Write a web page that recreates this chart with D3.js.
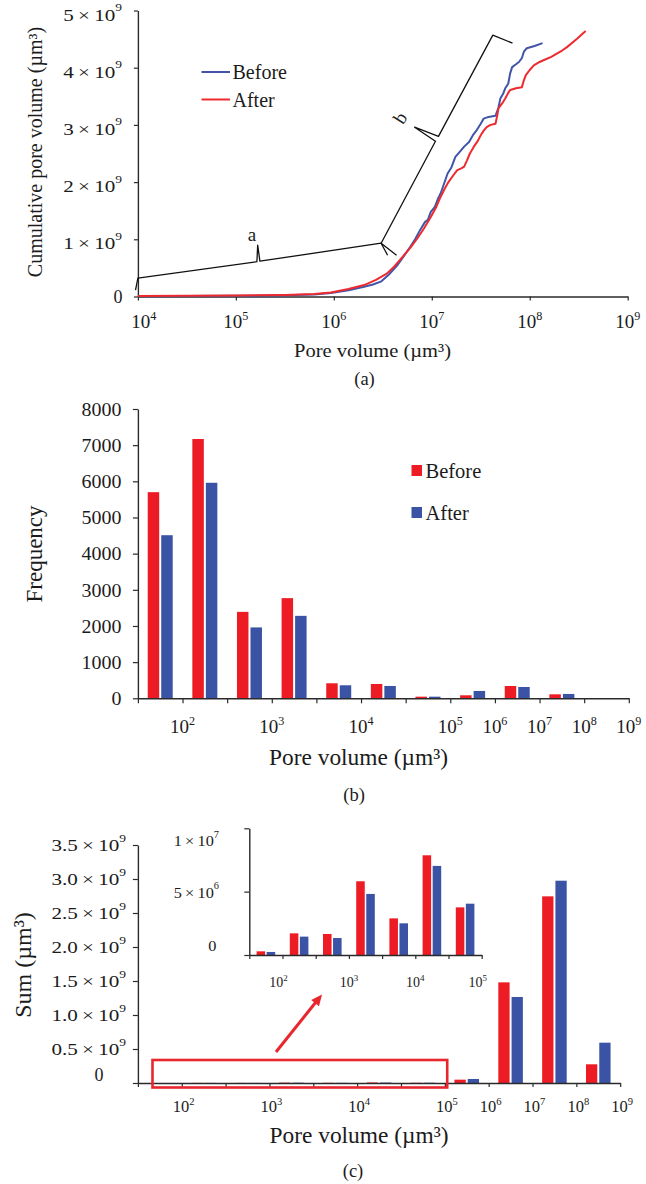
<!DOCTYPE html>
<html>
<head>
<meta charset="utf-8">
<script src="https://cdn.jsdelivr.net/npm/d3@7"></script>
<style>
  html, body { margin: 0; padding: 0; background: #ffffff; }
  svg { display: block; }
</style>
</head>
<body>
<svg id="fig" width="646" height="1184"></svg>
<script>
// ---------------------------------------------------------------
// (a) cumulative pore volume vs pore volume  [pore volume µm³, cumulative µm³]
const beforeCurve = [
  [1e4, 0.005e9], [3.16e4, 0.008e9], [1e5, 0.012e9], [3.16e5, 0.02e9], [6.31e5, 0.035e9],
  [9.33e5, 0.063e9], [1.41e6, 0.11e9], [2.04e6, 0.17e9], [2.51e6, 0.21e9], [3.02e6, 0.26e9],
  [3.63e6, 0.38e9], [4.47e6, 0.55e9], [5.25e6, 0.72e9], [6.03e6, 0.87e9], [6.76e6, 1.00e9],
  [7.59e6, 1.16e9], [8.51e6, 1.30e9], [9.12e6, 1.34e9], [9.77e6, 1.48e9], [1.07e7, 1.56e9],
  [1.15e7, 1.70e9], [1.23e7, 1.80e9], [1.32e7, 1.95e9], [1.45e7, 2.15e9], [1.58e7, 2.25e9],
  [1.74e7, 2.44e9], [1.91e7, 2.52e9], [2.14e7, 2.62e9], [2.40e7, 2.70e9], [2.63e7, 2.82e9],
  [2.88e7, 2.91e9], [3.16e7, 3.02e9], [3.39e7, 3.11e9], [3.80e7, 3.14e9], [4.47e7, 3.16e9],
  [4.79e7, 3.30e9], [5.01e7, 3.46e9], [5.37e7, 3.55e9], [5.62e7, 3.64e9], [6.03e7, 3.72e9],
  [6.31e7, 3.90e9], [6.61e7, 4.01e9], [7.24e7, 4.06e9], [7.76e7, 4.10e9], [8.32e7, 4.17e9],
  [8.71e7, 4.28e9], [9.33e7, 4.34e9], [1.12e8, 4.38e9], [1.35e8, 4.43e9]
];
const afterCurve = [
  [1e4, 0.008e9], [3.16e4, 0.012e9], [1e5, 0.018e9], [3.16e5, 0.028e9], [6.31e5, 0.045e9],
  [9.33e5, 0.07e9], [1.41e6, 0.13e9], [2.04e6, 0.20e9], [2.69e6, 0.29e9], [3.47e6, 0.40e9],
  [4.17e6, 0.53e9], [5.01e6, 0.69e9], [6.03e6, 0.85e9], [7.08e6, 1.01e9], [8.32e6, 1.19e9],
  [9.77e6, 1.39e9], [1.10e7, 1.55e9], [1.23e7, 1.74e9], [1.35e7, 1.88e9], [1.48e7, 2.00e9],
  [1.66e7, 2.12e9], [1.82e7, 2.21e9], [2.00e7, 2.24e9], [2.14e7, 2.27e9], [2.29e7, 2.38e9],
  [2.45e7, 2.50e9], [2.69e7, 2.62e9], [2.95e7, 2.72e9], [3.16e7, 2.82e9], [3.39e7, 2.90e9],
  [3.63e7, 2.96e9], [3.98e7, 3.00e9], [4.47e7, 3.02e9], [4.68e7, 3.18e9], [4.79e7, 3.29e9],
  [5.25e7, 3.38e9], [5.62e7, 3.46e9], [6.03e7, 3.56e9], [6.31e7, 3.61e9], [7.24e7, 3.64e9],
  [8.32e7, 3.66e9], [8.71e7, 3.78e9], [9.12e7, 3.87e9], [1.0e8, 3.96e9], [1.10e8, 4.04e9],
  [1.26e8, 4.10e9], [1.38e8, 4.13e9], [1.66e8, 4.19e9], [1.91e8, 4.25e9], [2.14e8, 4.30e9],
  [2.40e8, 4.36e9], [3.02e8, 4.50e9], [3.72e8, 4.64e9]
];
const curveTicksX = [1e4, 1e5, 1e6, 1e7, 1e8, 1e9];
const curveTicksY = [0, 1e9, 2e9, 3e9, 4e9, 5e9];

// braces marking regions a and b, in data units
const braceA = [[9.45e3, 0.11e9], [1e4, 0.32e9], [1.64e5, 0.608e9], [1.67e5, 0.897e9],
                [1.76e5, 0.617e9], [3.04e6, 0.932e9], [3.54e6, 0.722e9]];
const braceB = [[4.37e6, 0.722e9], [3.04e6, 0.932e9], [1.09e7, 2.715e9], [6.68e6, 2.96e9],
                [1.17e7, 2.80e9], [4.20e7, 4.57e9], [6.67e7, 4.43e9]];
const braceLabels = [{ text: "a", at: [1.46e5, 1.09e9], angle: 0 },
                     { text: "b", at: [4.68e6, 3.13e9], angle: -58 }];

// ---------------------------------------------------------------
// (b), (c) pore-size classes: class edges as powers of ten
const binEdges = [1.5, 2, 2.5, 3, 3.5, 4, 4.5, 5, 6, 7, 8, 9];
const series = ["Before", "After"];

// (b) frequency per class
const freqBefore = [5700, 7170, 2390, 2770, 415, 396, 45, 83, 340, 110, 0];
const freqAfter  = [4510, 5960, 1960, 2280, 360, 341, 45, 203, 313, 120, 0];
const freqTicks = [0, 1000, 2000, 3000, 4000, 5000, 6000, 7000, 8000];

// (c) summed pore volume per class (µm³)
const sumBefore = [0.29e6, 1.71e6, 1.66e6, 5.82e6, 2.89e6, 7.87e6, 3.76e6, 0.049e9, 1.48e9, 2.745e9, 0.275e9];
const sumAfter  = [0.24e6, 1.45e6, 1.34e6, 4.82e6, 2.50e6, 7.03e6, 4.05e6, 0.059e9, 1.265e9, 2.975e9, 0.593e9];
const sumTicks = [0, 0.5e9, 1.0e9, 1.5e9, 2.0e9, 2.5e9, 3.0e9, 3.5e9];
const insetClasses = 7;               // classes up to 10^5 are enlarged in the inset
const insetTicks = [0, 5e6, 1e7];

// ---------------------------------------------------------------
const FONT = '"Liberation Serif","Times New Roman",Times,serif';
const INK = "#1b1b1b";
const AXIS = "#2a2a2a";
const BAR_RED = "#ed1c24", BAR_BLUE = "#3a53a4";
const LINE_RED = "#ee2a2f", LINE_BLUE = "#4055a8";
const seriesColor = { Before: BAR_RED, After: BAR_BLUE };

const svg = d3.select("#fig");

// text with optional superscript parts; parts = [[string, isSuperscript], ...]
function label(g, x, y, parts, o = {}) {
  const size = o.size || 16;
  let tf = `translate(${x},${y})`;
  if (o.rotate) tf += ` rotate(${o.rotate})`;
  if (o.sx && o.sx !== 1) tf += ` scale(${o.sx},1)`;
  const t = g.append("text")
    .attr("transform", tf)
    .attr("text-anchor", o.anchor || "middle")
    .attr("font-size", size)
    .attr("fill", o.fill || INK)
    .style("font-family", FONT);
  if (o.central) t.attr("dominant-baseline", "central");
  let raised = false;
  for (const [s, sup] of parts) {
    const ts = t.append("tspan").text(s);
    if (sup) { ts.attr("font-size", size * 0.64).attr("dy", -size * 0.42); raised = true; }
    else if (raised) { ts.attr("dy", size * 0.42); raised = false; }
  }
  return t;
}
const pow10 = e => [["10"], [String(e), true]];
const sci = (m, e) => [[m], ["\u2009×\u2009"], ["10"], [String(e), true]];

function drawAxis(g, axis, tf) {
  const a = g.append("g").attr("transform", tf).call(axis);
  a.select(".domain").attr("stroke", AXIS).attr("stroke-width", 1.4);
  a.selectAll(".tick line").attr("stroke", AXIS).attr("stroke-width", 1.2);
  a.selectAll(".tick text").remove();
  return a;
}

// ================= (a) cumulative curves =================
{
  const g = svg.append("g");
  const x = d3.scaleLog().domain([1e4, 1e9]).range([137.9, 627.7]);
  const y = d3.scaleLinear().domain([0, 5e9]).range([296.5, 10.5]);

  drawAxis(g, d3.axisBottom(x).tickValues(curveTicksX).tickSize(4).tickSizeOuter(0).tickFormat(() => ""),
           `translate(0,${y(0)})`);
  drawAxis(g, d3.axisLeft(y).tickValues(curveTicksY).tickSize(4).tickSizeOuter(0).tickFormat(() => ""),
           `translate(${x(1e4)},0)`);

  curveTicksY.forEach(v => {
    if (v === 0) label(g, 122.5, y(v), [["0"]], { size: 18, anchor: "end", central: true });
    else label(g, 122, y(v) + 4, sci(String(v / 1e9), 9), { size: 16.5, anchor: "end", central: true, sx: 1.28 });
  });
  curveTicksX.forEach(v => {
    const e = Math.round(Math.log10(v));
    label(g, x(v) + (e === 4 ? 6 : 0), 327.5, pow10(e), { size: 19 });
  });

  const line = d3.line().x(d => x(d[0])).y(d => y(d[1]));
  g.append("path").datum(beforeCurve).attr("d", line)
    .attr("fill", "none").attr("stroke", LINE_BLUE).attr("stroke-width", 2).attr("stroke-linejoin", "round");
  g.append("path").datum(afterCurve).attr("d", line)
    .attr("fill", "none").attr("stroke", LINE_RED).attr("stroke-width", 2).attr("stroke-linejoin", "round");

  [braceA, braceB].forEach(b => {
    g.append("path").datum(b).attr("d", line)
      .attr("fill", "none").attr("stroke", "#111").attr("stroke-width", 1.3).attr("stroke-linejoin", "round");
  });
  braceLabels.forEach(l => {
    label(g, x(l.at[0]), y(l.at[1]), [[l.text]], { size: 19, central: true, rotate: l.angle || null });
  });

  // legend
  const legend = [{ name: "Before", color: LINE_BLUE, y: 72 }, { name: "After", color: LINE_RED, y: 99.5 }];
  legend.forEach(d => {
    g.append("line").attr("x1", 201.5).attr("x2", 230).attr("y1", d.y).attr("y2", d.y)
      .attr("stroke", d.color).attr("stroke-width", 2);
    label(g, 232.5, d.y, [[d.name]], { size: 20, anchor: "start", central: true });
  });

  label(g, 35, 152, [["Cumulative pore volume (µm³)"]], { size: 20, rotate: -90, central: true });
  label(g, 372.5, 357, [["Pore volume (µm³)"]], { size: 19, sx: 1.08 });
  label(g, 364.5, 385, [["(a)"]], { size: 18.5 });
}

// grouped bars between class edges
function drawBars(g, xe, y, before, after, count) {
  const step = xe.step();
  const inner = d3.scaleBand().domain(series).range([0.22 * step, 0.78 * step]).paddingInner(0.15);
  const rows = d3.range(count).map(i => ({ i, Before: before[i], After: after[i] }));
  const grp = g.selectAll(null).data(rows).join("g")
    .attr("transform", d => `translate(${xe(binEdges[d.i])},0)`);
  grp.selectAll("rect").data(d => series.map(s => ({ s, v: d[s] }))).join("rect")
    .attr("x", d => inner(d.s))
    .attr("width", inner.bandwidth())
    .attr("y", d => y(d.v))
    .attr("height", d => y(0) - y(d.v))
    .attr("fill", d => seriesColor[d.s]);
}

// ================= (b) frequency =================
{
  const g = svg.append("g");
  const xe = d3.scalePoint().domain(binEdges).range([137.9, 628.8]);
  const y = d3.scaleLinear().domain([0, 8000]).range([698.3, 409]);

  drawBars(g, xe, y, freqBefore, freqAfter, binEdges.length - 1);

  drawAxis(g, d3.axisBottom(xe).tickSize(5).tickSizeOuter(0).tickFormat(() => ""), `translate(0,${y(0)})`);
  drawAxis(g, d3.axisLeft(y).tickValues(freqTicks).tickSize(5).tickSizeOuter(0).tickFormat(() => ""),
           `translate(${xe(binEdges[0])},0)`);

  freqTicks.forEach(v => label(g, 121.5, y(v), [[String(v)]], { size: 18.5, anchor: "end", central: true, sx: 1.08 }));
  binEdges.filter(e => Number.isInteger(e)).forEach(e => label(g, xe(e), 733, pow10(e), { size: 19 }));

  // legend
  const legend = [{ name: "Before", y: 470.5 }, { name: "After", y: 512.5 }];
  legend.forEach(d => {
    g.append("rect").attr("x", 411.5).attr("y", d.y - 5.5).attr("width", 10.5).attr("height", 11)
      .attr("fill", seriesColor[d.name]);
    label(g, 425.5, d.y, [[d.name]], { size: 20.5, anchor: "start", central: true });
  });

  label(g, 33.5, 554, [["Frequency"]], { size: 23, rotate: -90, central: true });
  label(g, 358.5, 765, [["Pore volume (µm³)"]], { size: 22.5, sx: 1.04 });
  label(g, 354, 801, [["(b)"]], { size: 18.5 });
}

// ================= (c) summed volume =================
{
  const g = svg.append("g");
  const xe = d3.scalePoint().domain(binEdges).range([137.9, 620.2]);
  const y = d3.scaleLinear().domain([0, 3.5e9]).range([1083, 845]);

  drawBars(g, xe, y, sumBefore, sumAfter, binEdges.length - 1);

  drawAxis(g, d3.axisBottom(xe).tickSize(4).tickSizeOuter(0).tickFormat(() => ""), `translate(0,${y(0)})`);
  drawAxis(g, d3.axisLeft(y).tickValues(sumTicks).tickSize(5).tickSizeOuter(0).tickFormat(() => ""),
           `translate(${xe(binEdges[0])},0)`);

  const fmt = d3.format(".1f");
  sumTicks.forEach(v => {
    if (v === 0) label(g, 99, y(v) - 8, [["0"]], { size: 18, central: true });
    else label(g, 126, y(v), sci(fmt(v / 1e9), 9), { size: 16.5, anchor: "end", central: true, sx: 1.28 });
  });
  binEdges.filter(e => Number.isInteger(e)).forEach(e => label(g, xe(e) + 2, 1112, pow10(e), { size: 16.5 }));

  // inset: classes up to 10^5 on a finer scale
  const insetEdges = binEdges.slice(0, insetClasses + 1);
  const xi = d3.scalePoint().domain(insetEdges).range([249.3, 481.7]);
  const yi = d3.scaleLinear().domain([0, 1e7]).range([955, 828.3]);
  const inset = g.append("g");
  drawBars(inset, xi, yi, sumBefore, sumAfter, insetClasses);
  drawAxis(inset, d3.axisBottom(xi).tickSize(4).tickSizeOuter(0).tickFormat(() => ""), `translate(0,${yi(0)})`);
  drawAxis(inset, d3.axisLeft(yi).tickValues(insetTicks).tickSize(5).tickSizeOuter(0).tickFormat(() => ""),
           `translate(${xi(insetEdges[0])},0)`);
  const insetShift = { 0: -10, 5e6: 0, 1e7: 12 };
  insetTicks.forEach(v => {
    const parts = v === 0 ? [["0"]] : sci(String(v / 10 ** Math.floor(Math.log10(v))), Math.floor(Math.log10(v)));
    label(inset, v === 0 ? 216.5 : 219, yi(v) + insetShift[v], parts, { size: 15.5, anchor: "end", central: true, sx: 1.05 });
  });
  insetEdges.filter(e => Number.isInteger(e)).forEach((e, k, arr) =>
    label(inset, xi(e) - (k === 0 || k === arr.length - 1 ? 4 : 0), 987, pow10(e), { size: 14 }));

  // highlight box around the small classes and arrow to the inset
  const boxX0 = xe(binEdges[0]) + 0.333 * xe.step();
  const boxX1 = xe(binEdges[insetClasses]) + 2.4;
  const boxY0 = y(0) - 23, boxY1 = y(0) + 4.5;
  g.append("rect").attr("x", boxX0).attr("y", boxY0).attr("width", boxX1 - boxX0).attr("height", boxY1 - boxY0)
    .attr("fill", "none").attr("stroke", "#e8262d").attr("stroke-width", 2.6);

  const ax0 = boxX0 + 0.419 * (boxX1 - boxX0), ay0 = boxY0 - 8;
  const ax1 = ax0 + 46, ay1 = ay0 - 57.5;
  const len = Math.hypot(ax1 - ax0, ay1 - ay0), ux = (ax1 - ax0) / len, uy = (ay1 - ay0) / len;
  const head = 11, half = 5;
  const bx = ax1 - ux * head, by = ay1 - uy * head;
  g.append("line").attr("x1", ax0).attr("y1", ay0).attr("x2", bx + ux).attr("y2", by + uy)
    .attr("stroke", "#e8262d").attr("stroke-width", 3);
  g.append("path")
    .attr("d", `M${ax1},${ay1}L${bx - uy * half},${by + ux * half}L${bx + uy * half},${by - ux * half}Z`)
    .attr("fill", "#e8262d");

  label(g, 22.5, 965, [["Sum (µm³)"]], { size: 24, rotate: -90, central: true });
  label(g, 359, 1142.5, [["Pore volume (µm³)"]], { size: 22.5, sx: 1.04 });
  label(g, 353, 1177, [["(c)"]], { size: 18.5 });
}
</script>
</body>
</html>
